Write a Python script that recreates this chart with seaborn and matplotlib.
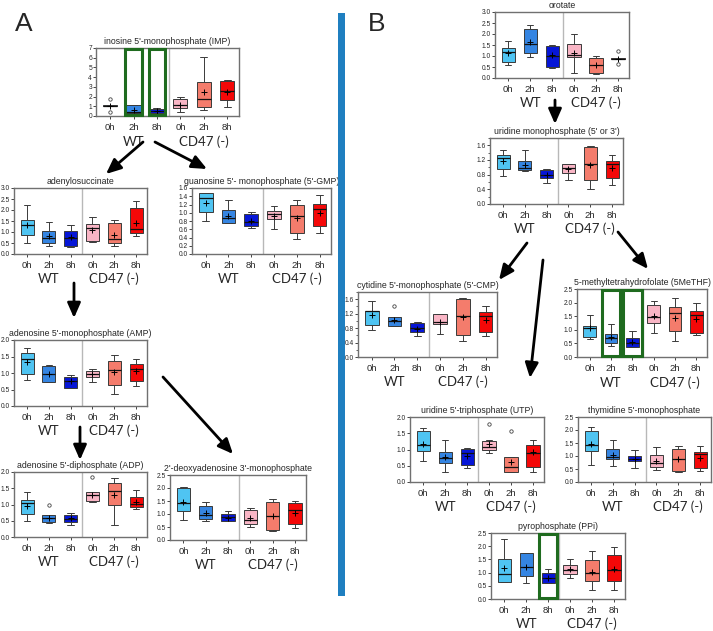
import numpy as np
import pandas as pd
import matplotlib
matplotlib.use("Agg")
import matplotlib.pyplot as plt
import seaborn as sns
from matplotlib.patches import Rectangle, FancyArrowPatch
from matplotlib.ticker import AutoMinorLocator

sns.set_style("white")
plt.rcParams['font.family'] = ['Liberation Sans', 'DejaVu Sans']

# ---------------- data ----------------
groups = ["WT 0h", "WT 2h", "WT 8h", "CD47 0h", "CD47 2h", "CD47 8h"]
tick_labels = ["0h", "2h", "8h", "0h", "2h", "8h"]
colors = ["#4FC4F2", "#3585E2", "#0616D6", "#F9B5C5", "#F47C6C", "#F40808"]

# five-number summaries [min, q1, median, q3, max] per group
imp_stats = [[0.98, 1.0, 1.05, 1.1, 1.12], [0.3, 0.32, 0.45, 1.1, 1.1], [0.3, 0.32, 0.5, 0.75, 0.85],
             [0.45, 0.8, 1.1, 1.75, 1.95], [0.6, 0.9, 1.75, 3.5, 6.1], [0.9, 1.6, 2.55, 3.65, 3.75]]
imp_means = [1.05, 0.65, 0.55, 1.15, 2.45, 2.5]
imp_out = [(0, 1.8), (0, 0.4)]

ads_stats = [[0.5, 0.85, 1.3, 1.55, 2.25], [0.35, 0.5, 0.75, 1.05, 1.45], [0.3, 0.35, 0.75, 1.05, 1.3],
             [0.55, 0.6, 1.2, 1.38, 1.7], [0.37, 0.5, 0.7, 1.4, 1.55], [0.8, 0.97, 1.15, 2.1, 2.4]]
ads_means = [1.3, 0.8, 0.78, 1.1, 0.87, 1.42]
ads_out = []

gmp_stats = [[0.8, 1.02, 1.35, 1.47, 1.48], [0.74, 0.76, 0.87, 1.06, 1.32], [0.62, 0.67, 0.77, 0.98, 1.02],
             [0.6, 0.84, 0.97, 1.05, 1.17], [0.36, 0.5, 0.93, 1.2, 1.3], [0.52, 0.68, 1.1, 1.22, 1.42]]
gmp_means = [1.23, 0.93, 0.8, 0.93, 0.87, 1.0]
gmp_out = []

amp_stats = [[0.8, 0.98, 1.42, 1.6, 1.77], [0.72, 0.73, 0.96, 1.2, 1.23], [0.55, 0.56, 0.75, 0.88, 0.93],
             [0.72, 0.87, 0.98, 1.07, 1.12], [0.37, 0.63, 1.1, 1.35, 1.56], [0.62, 0.77, 1.13, 1.27, 1.43]]
amp_means = [1.33, 0.97, 0.77, 0.97, 1.02, 1.05]
amp_out = []

adp_stats = [[0.5, 0.7, 1.05, 1.13, 1.4], [0.43, 0.47, 0.6, 0.68, 0.68], [0.38, 0.45, 0.55, 0.67, 0.73],
             [1.07, 1.1, 1.3, 1.38, 1.4], [0.38, 1.0, 1.43, 1.67, 1.83], [0.85, 0.93, 1.03, 1.23, 1.45]]
adp_means = [0.95, 0.6, 0.57, 1.3, 1.3, 1.07]
adp_out = [(1, 1.0), (3, 1.85)]

dam_stats = [[0.77, 1.13, 1.43, 2.0, 2.02], [0.72, 0.8, 0.97, 1.3, 1.48], [0.72, 0.73, 0.87, 1.0, 1.1],
             [0.5, 0.62, 0.77, 1.15, 1.22], [0.33, 0.37, 0.93, 1.47, 1.57], [0.47, 0.62, 1.15, 1.42, 1.5]]
dam_means = [1.45, 1.05, 0.85, 0.85, 0.93, 1.05]
dam_out = []

oro_stats = [[0.58, 0.75, 1.2, 1.38, 1.68], [0.95, 1.15, 1.55, 2.22, 2.4], [0.45, 0.5, 1.0, 1.47, 1.5],
             [0.22, 0.95, 1.05, 1.55, 2.02], [0.2, 0.22, 0.58, 0.9, 0.98], [0.85, 0.85, 0.88, 0.9, 0.92]]
oro_means = [1.12, 1.62, 1.05, 1.12, 0.58, 0.88]
oro_out = [(5, 1.25), (5, 0.62)]

ump_stats = [[0.77, 0.95, 1.25, 1.35, 1.46], [0.9, 0.92, 0.98, 1.18, 1.48], [0.57, 0.7, 0.78, 0.92, 0.95],
             [0.65, 0.85, 0.97, 1.08, 1.1], [0.42, 0.65, 1.1, 1.55, 1.58], [0.52, 0.72, 1.08, 1.18, 1.35]]
ump_means = [1.17, 1.07, 0.78, 0.95, 1.07, 0.99]
ump_out = []

cmp_stats = [[0.76, 0.88, 1.27, 1.28, 1.55], [0.85, 0.87, 1.0, 1.1, 1.1], [0.58, 0.68, 0.8, 0.95, 0.97],
             [0.63, 0.92, 0.98, 1.18, 1.2], [0.43, 0.62, 1.13, 1.62, 1.63], [0.57, 0.7, 1.13, 1.25, 1.4]]
cmp_means = [1.15, 1.03, 0.78, 0.98, 1.1, 1.03]
cmp_out = [(1, 1.42)]

mthf_stats = [[0.67, 0.73, 1.07, 1.15, 1.55], [0.42, 0.5, 0.7, 0.85, 1.22], [0.35, 0.35, 0.5, 0.7, 0.95],
              [0.9, 1.25, 1.48, 1.9, 2.05], [0.6, 0.95, 1.6, 1.85, 2.18], [0.8, 0.9, 1.55, 1.68, 1.98]]
mthf_means = [1.05, 0.72, 0.55, 1.5, 1.45, 1.4]
mthf_out = []

utp_stats = [[0.65, 0.95, 1.13, 1.58, 1.65], [0.3, 0.58, 0.75, 0.93, 1.3], [0.43, 0.52, 0.88, 1.02, 1.05],
             [0.88, 0.98, 1.08, 1.27, 1.28], [0.3, 0.3, 0.45, 0.77, 0.77], [0.3, 0.45, 0.9, 1.15, 1.3]]
utp_means = [1.18, 0.77, 0.8, 1.18, 0.63, 0.92]
utp_out = [(3, 1.78), (4, 1.57)]

tmp_stats = [[0.65, 1.2, 1.42, 1.95, 2.1], [0.62, 0.87, 0.97, 1.27, 1.62], [0.55, 0.8, 0.87, 1.0, 1.22],
             [0.48, 0.57, 0.73, 1.03, 1.33], [0.4, 0.42, 0.87, 1.27, 1.37], [0.42, 0.55, 1.08, 1.17, 1.38]]
tmp_means = [1.45, 1.05, 0.88, 0.8, 0.87, 0.93]
tmp_out = []

ppi_stats = [[0.65, 0.65, 0.95, 1.53, 2.27], [0.62, 0.88, 1.23, 1.73, 1.75], [0.6, 0.62, 0.8, 1.0, 1.15],
             [0.78, 0.95, 1.1, 1.3, 1.52], [0.35, 0.7, 1.0, 1.48, 1.83], [0.35, 0.68, 1.08, 1.65, 1.97]]
ppi_means = [1.18, 1.23, 0.8, 1.12, 1.03, 1.12]
ppi_out = []

# ---------------- layout ----------------
W, H = 713, 631
fig = plt.figure(figsize=(W / 100, H / 100), dpi=100)


def px_to_fig(x, y):
    return x / W, 1 - y / H


panels = [
    # title, stats, means, outliers, box(px: x0,y0,x1,y1), ylim, yticks, fmt, minor, green groups, green width
    ("inosine 5'-monophosphate (IMP)", imp_stats, imp_means, imp_out, (96, 48, 239, 116), 7, np.arange(0, 8, 1), "{:.0f}", False, [1, 2], 0.72),
    ("adenylosuccinate", ads_stats, ads_means, ads_out, (14, 188, 147, 254), 3.0, np.arange(0, 3.01, 0.5), "{:.1f}", False, [], 0),
    ("guanosine 5'- monophosphate (5'-GMP)", gmp_stats, gmp_means, gmp_out, (192, 188, 331, 254), 1.6, np.arange(0, 1.61, 0.2), "{:.1f}", False, [], 0),
    ("adenosine 5'-monophosphate (AMP)", amp_stats, amp_means, amp_out, (14, 340, 147, 406), 2.0, np.arange(0, 2.01, 0.5), "{:.1f}", False, [], 0),
    ("adenosine 5'-diphosphate (ADP)", adp_stats, adp_means, adp_out, (14, 472, 147, 537), 2.0, np.arange(0, 2.01, 0.5), "{:.1f}", False, [], 0),
    ("2'-deoxyadenosine 3'-monophosphate", dam_stats, dam_means, dam_out, (170, 475, 306, 540), 2.5, np.arange(0, 2.51, 0.5), "{:.1f}", False, [], 0),
    ("orotate", oro_stats, oro_means, oro_out, (495, 12, 629, 78), 3.0, np.arange(0, 3.01, 0.5), "{:.1f}", False, [], 0),
    ("uridine monophosphate (5' or 3')", ump_stats, ump_means, ump_out, (490, 138, 623, 204), 1.8, np.arange(0, 1.61, 0.4), "{:.1f}", True, [], 0),
    ("cytidine 5'-monophosphate (5'-CMP)", cmp_stats, cmp_means, cmp_out, (358, 292, 497, 357), 1.8, np.arange(0, 1.61, 0.4), "{:.1f}", True, [], 0),
    ("5-methyltetrahydrofolate (5MeTHF)", mthf_stats, mthf_means, mthf_out, (577, 289, 707, 357), 2.5, np.arange(0, 2.51, 0.5), "{:.1f}", False, [1, 2], 0.88),
    ("uridine 5'-triphosphate (UTP)", utp_stats, utp_means, utp_out, (410, 417, 544, 482), 2.0, np.arange(0, 2.01, 0.5), "{:.1f}", False, [], 0),
    ("thymidine 5'-monophosphate", tmp_stats, tmp_means, tmp_out, (578, 417, 711, 482), 2.5, np.arange(0, 2.51, 0.5), "{:.1f}", False, [], 0),
    ("pyrophosphate (PPi)", ppi_stats, ppi_means, ppi_out, (491, 533, 625, 599), 2.5, np.arange(0, 2.51, 0.5), "{:.1f}", False, [2], 0.8),
]

for (title, stats, means, outs, box, ymax, yticks, fmt, minor, greens, gw) in panels:
    x0, y0, x1, y1 = box
    ax = fig.add_axes([x0 / W, 1 - y1 / H, (x1 - x0) / W, (y1 - y0) / H])
    rows = []
    for g, s in zip(groups, stats):
        for v in s:
            rows.append({"group": g, "value": v})
    df = pd.DataFrame(rows)
    sns.boxplot(data=df, x="group", y="value", hue="group", order=groups, hue_order=groups,
                palette=colors, saturation=1, whis=np.inf, width=0.6, linewidth=0.7,
                linecolor="#3a3a3a", legend=False, ax=ax,
                medianprops={"color": "#111111", "linewidth": 0.9},
                capprops={"color": "#3a3a3a"}, whiskerprops={"color": "#3a3a3a"})
    ax.scatter(groups, means, marker="+", color="black", s=14, linewidths=0.7, zorder=5)
    if outs:
        ax.scatter([groups[i] for i, _ in outs], [v for _, v in outs], marker="o",
                   facecolors="white", edgecolors="#444444", s=6, linewidths=0.6, zorder=5)
    ax.axvline(2.5, color="#b8b8b8", lw=1.0, zorder=0)
    for gi in greens:
        ax.add_patch(Rectangle((gi - gw / 2, 0.01), gw, 0.98,
                               transform=ax.get_xaxis_transform(), fill=False,
                               edgecolor="#1f6b1f", lw=2.2, zorder=6, clip_on=False))
    ax.set_xlim(-0.6, 5.5)
    ax.set_ylim(0, ymax)
    ax.set_yticks(yticks)
    ax.set_yticklabels([fmt.format(t) for t in yticks])
    if minor:
        ax.yaxis.set_minor_locator(AutoMinorLocator(2))
        ax.tick_params(axis="y", which="minor", length=1.5, width=0.5, left=True)
    ax.set_xticks(range(6))
    ax.set_xticklabels(tick_labels)
    ax.tick_params(axis="y", labelsize=4.8, length=2, width=0.6, pad=0.8, left=True)
    ax.tick_params(axis="x", labelsize=6.8, length=2, width=0.6, pad=3, bottom=True)
    ax.set_xlabel("")
    ax.set_ylabel("")
    for sp in ax.spines.values():
        sp.set_color("#707070")
        sp.set_linewidth(1.0)
    ax.set_title(title, fontsize=6.3, pad=3)
    # group labels
    ax.text(1, -0.38, "WT", transform=ax.get_xaxis_transform(), ha="center", va="center",
            fontsize=9.5, family=["Lato", "DejaVu Sans"])
    ax.text(4, -0.38, "CD47 (-)", transform=ax.get_xaxis_transform(), ha="center", va="center",
            fontsize=9.5, family=["Lato", "DejaVu Sans"])

# big panel letters
fig.text(*px_to_fig(15, 31), "A", fontsize=19, family=["Liberation Sans"], va="baseline")
fig.text(*px_to_fig(368, 31), "B", fontsize=19, family=["Liberation Sans"], va="baseline")

# blue divider
bx, by = px_to_fig(338, 596)
fig.add_artist(Rectangle((bx, by), 7 / W, (596 - 13) / H, transform=fig.transFigure,
                         color="#1F7FC0", lw=0))

# arrows (pixel coordinates)
arrows = [((143, 142), (106, 174)), ((155, 142), (207, 169)), ((74, 283), (74, 318)),
          ((80, 427), (80, 460)), ((163, 377), (233, 454)), ((555, 100), (555, 124)),
          ((527, 243), (499, 280)), ((543, 260), (530, 378)), ((618, 232), (648, 269))]
for (a, b) in arrows:
    fig.add_artist(FancyArrowPatch(px_to_fig(*a), px_to_fig(*b), transform=fig.transFigure,
                                   arrowstyle="-|>,head_length=0.5,head_width=0.22",
                                   mutation_scale=18, lw=2.0, color="black",
                                   shrinkA=0, shrinkB=0))

fig.savefig("out.png", dpi=100)
